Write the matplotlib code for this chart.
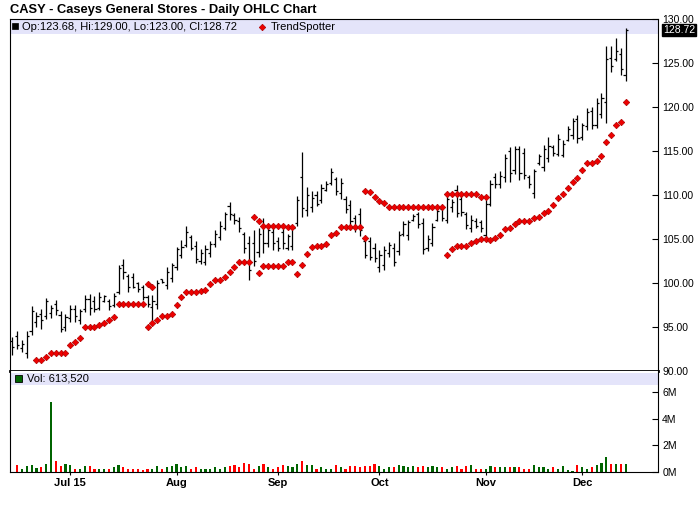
import numpy as np
import matplotlib
matplotlib.use('Agg')
import matplotlib.pyplot as plt
from matplotlib.patches import Rectangle
from matplotlib.lines import Line2D
import matplotlib.transforms as mtrans

plt.rcParams['font.family'] = ['Liberation Sans', 'DejaVu Sans']

N = None
title = "CASY - Caseys General Stores - Daily OHLC Chart"
month_pos = [12, 34, 55, 76, 98, 118]
month_labels = ["Jul 15", "Aug", "Sep", "Oct", "Nov", "Dec"]
price_ticks = [90, 95, 100, 105, 110, 115, 120, 125, 130]
vol_ticks = [0, 2, 4, 6]

highs = [93.9, 94.5, 93.5, 94.5, 97.4, 96.7, 97.0, 98.3, 97.5, 98.1,
         96.8, 96.5, 97.5, 97.5, 97.1, 98.6, 98.7, 98.5, 99.0, 98.6,
         98.2, 98.9, 102.0, 102.7, 101.0, 101.1, 100.15, 99.8, 98.6, 98.6,
         100.3, 100.5, 101.85, 102.3, 104.1, 104.9, 106.5, 105.45, 104.8, 103.9,
         104.3, 104.8, 106.0, 107.0, 108.1, 109.2, 108.0, 107.5, 105.8, 105.3,
         106.0, 106.2, 107.35, 106.5, 106.3, 105.2, 106.1, 105.6, 106.6, 109.9,
         114.85, 110.95, 110.4, 110.4, 111.3, 111.6, 113.1, 112.0, 111.9, 109.9,
         109.4, 107.7, 108.5, 105.3, 105.2, 104.5, 103.75, 104.2, 104.7, 104.5,
         105.95, 107.05, 107.2, 107.85, 108.1, 107.35, 105.4, 106.8, 108.5, 108.7,
         110.1, 109.6, 111.1, 110.1, 108.1, 107.7, 107.35, 107.2, 109.4, 111.7,
         112.5, 112.7, 114.7, 115.5, 115.6, 115.6, 115.3, 112.3, 113.0, 114.7,
         115.7, 116.6, 115.7, 116.9, 116.2, 117.8, 118.8, 119.1, 118.2, 119.85,
         120.0, 121.0, 121.6, 126.9, 126.9, 127.8, 126.7, 129.0]
lows = [91.8, 92.5, 92.2, 91.5, 94.1, 95.0, 94.8, 95.95, 96.0, 96.4,
        94.4, 94.5, 95.6, 95.6, 95.3, 96.7, 96.4, 96.7, 96.9, 97.8,
        96.9, 97.3, 98.8, 100.5, 99.0, 99.4, 99.0, 98.1, 97.3, 95.4,
        97.1, 99.96, 99.3, 100.15, 101.5, 102.8, 104.1, 103.75, 102.3, 102.2,
        102.0, 103.0, 104.1, 104.9, 106.0, 107.2, 106.7, 105.8, 103.4, 100.3,
        101.9, 103.0, 103.4, 104.05, 103.75, 103.6, 103.9, 103.75, 103.75, 106.5,
        107.5, 107.6, 108.1, 108.7, 109.05, 110.4, 111.1, 110.0, 109.6, 108.0,
        106.6, 105.8, 105.3, 102.8, 102.6, 102.4, 101.3, 101.5, 103.0, 101.9,
        103.2, 105.3, 104.9, 107.0, 106.2, 103.3, 103.6, 104.2, 107.0, 107.0,
        106.8, 108.1, 107.5, 107.6, 106.1, 105.8, 106.2, 105.8, 104.9, 108.7,
        110.8, 110.8, 111.5, 111.5, 112.4, 111.7, 111.8, 110.8, 109.7, 113.4,
        112.7, 113.8, 114.4, 114.4, 114.3, 116.1, 116.4, 115.9, 116.25, 117.4,
        117.5, 117.6, 118.7, 118.2, 124.0, 125.2, 123.6, 123.0]
opens = [93.4, 94.0, 92.6, 92.0, 94.5, 95.6, 96.5, 96.2, 96.6, 97.6,
         96.4, 95.0, 96.0, 97.1, 95.8, 97.0, 98.2, 97.9, 97.2, 97.9,
         98.0, 97.5, 99.0, 102.1, 100.8, 100.7, 100.0, 99.5, 98.4, 97.3,
         97.6, 100.4, 99.8, 100.6, 101.8, 103.2, 104.3, 105.2, 104.2, 102.5,
         102.4, 103.4, 104.4, 105.2, 106.3, 108.8, 107.7, 107.0, 105.6, 104.5,
         104.5, 103.5, 106.5, 104.5, 105.8, 104.8, 105.8, 104.0, 104.2, 106.8,
         112.0, 108.3, 108.6, 110.0, 109.4, 110.6, 111.4, 111.8, 110.2, 109.6,
         108.9, 107.4, 107.8, 104.8, 104.8, 104.0, 101.8, 102.0, 103.4, 104.0,
         103.6, 105.6, 105.4, 107.2, 107.8, 106.8, 104.0, 104.6, 107.2, 108.4,
         107.2, 108.6, 110.6, 109.6, 107.8, 106.2, 107.0, 106.9, 105.4, 109.0,
         112.0, 111.2, 112.0, 115.0, 112.8, 115.2, 114.8, 112.0, 110.2, 113.6,
         113.2, 114.2, 115.4, 114.7, 114.6, 116.3, 116.8, 118.6, 116.6, 117.8,
         119.6, 118.0, 119.2, 120.6, 125.6, 125.4, 126.0, 123.68]
closes = [92.7, 93.0, 93.1, 94.0, 96.8, 96.3, 95.8, 97.9, 97.2, 96.9,
          94.8, 96.1, 97.0, 96.2, 96.8, 98.2, 97.2, 97.0, 98.4, 98.5,
          97.4, 98.5, 101.7, 101.2, 99.6, 99.6, 99.3, 98.4, 97.6, 98.0,
          100.0, 100.1, 101.3, 102.0, 103.9, 104.1, 105.8, 104.0, 102.7, 103.4,
          103.9, 104.4, 105.6, 106.5, 107.8, 107.8, 107.2, 106.2, 104.0, 101.5,
          102.5, 105.6, 104.5, 106.0, 104.5, 104.0, 104.6, 105.3, 106.2, 109.4,
          108.5, 110.0, 109.7, 109.0, 110.8, 111.3, 112.6, 110.5, 111.4, 108.4,
          107.0, 106.2, 106.0, 103.2, 103.0, 102.8, 103.2, 103.8, 104.3, 102.4,
          105.5, 106.7, 106.9, 107.6, 106.7, 103.9, 105.0, 106.4, 108.2, 107.4,
          109.6, 109.2, 108.0, 108.1, 106.6, 107.2, 106.5, 106.2, 109.0, 111.2,
          111.3, 112.2, 114.2, 112.5, 115.2, 112.5, 112.3, 111.2, 112.7, 114.4,
          115.2, 115.6, 114.8, 116.4, 115.8, 117.5, 118.4, 116.5, 117.9, 119.4,
          117.9, 120.4, 121.0, 125.4, 124.7, 126.4, 124.3, 128.72]
volume_m = [0, 0.5, 0.25, 0.43, 0.5, 0.3, 0.35, 0.63, 5.25, 0.8,
            0.43, 0.58, 0.5, 0.25, 0.25, 0.43, 0.43, 0.25, 0.25, 0.25,
            0.25, 0.35, 0.5, 0.35, 0.25, 0.25, 0.25, 0.18, 0.25, 0.25,
            0.43, 0.25, 0.35, 0.43, 0.58, 0.35, 0.43, 0.25, 0.35, 0.25,
            0.25, 0.25, 0.35, 0.25, 0.35, 0.43, 0.5, 0.35, 0.65, 0.58,
            0.25, 0.43, 0.58, 0.35, 0.25, 0.35, 0.5, 0.43, 0.35, 0.58,
            0.8, 0.5, 0.5, 0.25, 0.35, 0.25, 0.25, 0.5, 0.35, 0.25,
            0.43, 0.43, 0.35, 0.43, 0.43, 0.63, 0.43, 0.25, 0.35, 0.35,
            0.5, 0.43, 0.35, 0.43, 0.35, 0.43, 0.35, 0.43, 0.35, 0.35,
            0.25, 0.35, 0.43, 0.25, 0.43, 0.5, 0.25, 0.25, 0.25, 0.43,
            0.35, 0.35, 0.35, 0.35, 0.35, 0.35, 0.25, 0.25, 0.5, 0.35,
            0.35, 0.25, 0.35, 0.25, 0.43, 0.18, 0.1, 0.5, 0.35, 0.25,
            0.35, 0.5, 0.7, 1.1, 0.58, 0.58, 0.58, 0.61352]
ts_lower = [N, N, N, N, N, 91.2, 91.2, 91.55, 92.1, 92.1,
            92.1, 92.1, 93.0, 93.35, 93.7, 94.95, 94.95, 94.95, 95.2, 95.5,
            95.85, 96.1, 97.57, 97.57, 97.57, 97.57, 97.57, 97.57, 95.0, 95.5,
            95.75, 96.25, 96.25, 96.45, 97.45, 98.4, 99.0, 99.0, 99.0, 99.1,
            99.25, 99.9, 100.3, 100.3, 100.7, 101.2, 101.85, 102.35, 102.35, 102.35,
            N, 101.1, 101.9, 101.9, 101.9, 101.9, 101.9, 102.35, 102.35, 101.0,
            102.1, 103.35, 104.05, 104.15, 104.15, 104.4, 105.4, 105.65, 106.33, 106.33,
            106.33, 106.33, 106.33, 105.1, N, N, N, N, N, N,
            N, N, N, N, N, N, N, N, N, N,
            103.15, 103.85, 104.15, 104.15, 104.25, 104.6, 104.8, 104.95, 104.95, 104.9,
            105.1, 105.45, 106.1, 106.2, 106.7, 107.1, 107.1, 107.1, 107.35, 107.45,
            108.0, 108.15, 108.85, 109.7, 110.1, 110.85, 111.45, 111.9, 112.8, 113.6,
            113.6, 113.85, 114.4, 116.0, 116.8, 118.0, 118.25, 120.55]
ts_upper = [N, N, N, N, N, N, N, N, N, N,
            N, N, N, N, N, N, N, N, N, N,
            N, N, N, N, N, N, N, N, 99.85, 99.6,
            N, N, N, N, N, N, N, N, N, N,
            N, N, N, N, N, N, N, N, N, N,
            107.45, 107.05, 106.5, 106.5, 106.5, 106.5, 106.5, 106.33, 106.33, N,
            N, N, N, N, N, N, N, N, N, N,
            N, N, N, 110.45, 110.3, 109.75, 109.3, 109.05, 108.6, 108.6,
            108.6, 108.6, 108.6, 108.6, 108.6, 108.6, 108.6, 108.6, 108.6, 108.6,
            110.1, 110.1, 110.1, 110.1, 110.1, 110.1, 110.1, 109.8, 109.8, N,
            N, N, N, N, N, N, N, N, N, N,
            N, N, N, N, N, N, N, N, N, N,
            N, N, N, N, N, N, N, N]

W, H = 700, 512
def frame(x0, y0, x1, y1):
    return [x0 / W, 1 - y1 / H, (x1 - x0) / W, (y1 - y0) / H]

fig = plt.figure(figsize=(W / 100, H / 100), dpi=100)
fig.patch.set_facecolor('white')
ax = fig.add_axes(frame(10, 19, 658, 371))
axv = fig.add_axes(frame(10, 371, 658, 472), sharex=ax)

x = np.arange(len(highs))
lo_arr = np.array([np.nan if v is None else v for v in ts_lower], float)
up_arr = np.array([np.nan if v is None else v for v in ts_upper], float)

band = '#e4e4fa'
ax.add_patch(Rectangle((0, 1 - 15 / 352), 1, 15 / 352, transform=ax.transAxes,
                       facecolor=band, edgecolor='none', zorder=0.5))
ax.vlines(x, lows, highs, color='black', lw=0.9, zorder=2)
ax.hlines(opens, x - 0.45, x, color='black', lw=0.9, zorder=2)
ax.hlines(closes, x, x + 0.45, color='black', lw=0.9, zorder=2)
for arr in (lo_arr, up_arr):
    ax.plot(x, arr, linestyle='none', marker='D', ms=3.3, mfc='#ee0000',
            mec='#b00000', mew=0.5, zorder=3)

ax.set_xlim(-0.48, 133.7)
ax.set_ylim(90, 130)
ax.yaxis.tick_right()
ax.set_yticks(price_ticks)
ax.set_yticklabels(['%.2f' % t for t in price_ticks])
ax.tick_params(axis='y', direction='in', length=4, width=0.8, pad=3,
               labelsize=7.5, right=True, left=False)
ax.tick_params(axis='x', bottom=False, labelbottom=False)
for s in ('left', 'top', 'right'):
    ax.spines[s].set_linewidth(0.8)
ax.spines['bottom'].set_linewidth(2.0)
ax.spines['bottom'].set_zorder(5)

close_last = closes[-1]
tr = mtrans.blended_transform_factory(ax.transAxes, ax.transData)
ax.text(1.008, close_last, '%.2f' % close_last, transform=tr, color='white',
        fontsize=7.5, va='center', ha='left',
        bbox=dict(facecolor='black', edgecolor='black', pad=0.8), zorder=10,
        clip_on=False)

# volume panel
vcols = ['#006400' if c >= o else '#ff0000' for o, c in zip(opens, closes)]
axv.add_patch(Rectangle((0, 1 - 14 / 101), 1, 12 / 101, transform=axv.transAxes,
                        facecolor=band, edgecolor='none', zorder=0.5))
axv.bar(x, volume_m, width=0.45, color=vcols, zorder=2)
axv.set_ylim(0, 7.57)
axv.yaxis.tick_right()
axv.set_yticks(vol_ticks)
axv.set_yticklabels(['%dM' % t for t in vol_ticks])
axv.tick_params(axis='y', direction='in', length=4, width=0.8, pad=3,
                labelsize=7.5, right=True, left=False)
axv.set_xticks(month_pos)
axv.set_xticklabels(month_labels, fontweight='bold', fontsize=8)
axv.tick_params(axis='x', direction='out', length=2.5, width=0.8, pad=2)
axv.spines['top'].set_visible(False)
for s in ('left', 'right', 'bottom'):
    axv.spines[s].set_linewidth(0.8)

# title and legends
fig.text(10 / W, 1 - 9.5 / H, title, fontsize=9.3, fontweight='bold',
         va='center', ha='left')
fig.add_artist(Rectangle((12 / W, 1 - 29 / H), 6 / W, 6 / H, transform=fig.transFigure,
                         facecolor='black', edgecolor='black', lw=0.5))
fig.text(22 / W, 1 - 26.5 / H,
         'Op:%.2f, Hi:%.2f, Lo:%.2f, Cl:%.2f' % (opens[-1], highs[-1], lows[-1], closes[-1]),
         fontsize=8, va='center', ha='left')
fig.add_artist(Line2D([262 / W], [1 - 26.5 / H], transform=fig.transFigure,
                      marker='D', ms=3.3, mfc='#ee0000', mec='#b00000', mew=0.5,
                      linestyle='none'))
fig.text(271 / W, 1 - 26.5 / H, 'TrendSpotter', fontsize=8, va='center', ha='left')
fig.add_artist(Rectangle((15 / W, 1 - 382 / H), 7 / W, 7 / H, transform=fig.transFigure,
                         facecolor='#006400', edgecolor='black', lw=0.6))
fig.text(27 / W, 1 - 378.5 / H, 'Vol: {:,}'.format(int(round(volume_m[-1] * 1e6, -1))),
         fontsize=8, va='center', ha='left')

fig.savefig('out.png', dpi=100, facecolor='white')
